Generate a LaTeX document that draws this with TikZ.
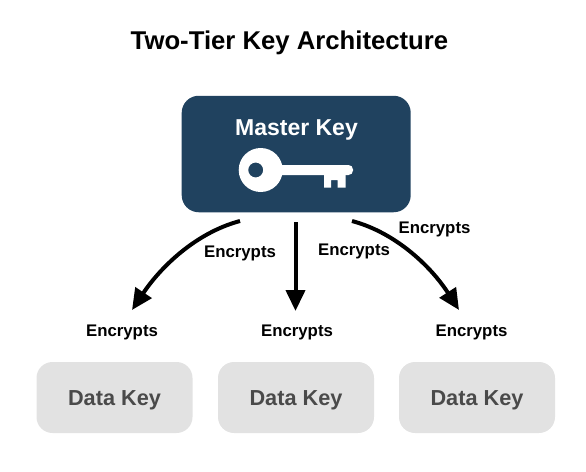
\documentclass[tikz,border=0pt]{standalone}
\usepackage{fontspec}
\setmainfont{Liberation Sans}
\usetikzlibrary{arrows.meta}
\definecolor{navy}{HTML}{20425F}
\definecolor{databox}{HTML}{E2E2E2}
\definecolor{datatext}{HTML}{4A4A4A}
\tikzset{
  x=1pt,y=-1pt,
  databoxst/.style={draw=none,fill=databox,rounded corners=16pt,minimum width=156pt,minimum height=71pt,inner sep=0pt,text=datatext,text height=15.5pt,text depth=0pt,font=\fontsize{21.7}{24}\selectfont\bfseries},
  lbl/.style={inner sep=0pt,text=black,font=\fontsize{16.8}{19}\selectfont\bfseries},
  arrowst/.style={line width=4pt,draw=black,-{Triangle[length=21pt,width=19pt]}},
}
\begin{document}
\begin{tikzpicture}
\useasboundingbox (0,0) rectangle (586,471);
\node[inner sep=0pt,font=\fontsize{25.7}{29}\selectfont\bfseries] (title) at (289.5,43) {Two-Tier Key Architecture};
\node[fill=navy,rounded corners=17pt,minimum width=229pt,minimum height=116.5pt,inner sep=0pt] (master) at (296.2,154) {};
\node[inner sep=0pt,text=white,font=\fontsize{23}{26}\selectfont\bfseries] (mlabel) at (296.5,130) {Master Key};
% key
\fill[white,even odd rule] (260.7,170) circle (22) (255.7,170) circle (7.5);
\fill[white,rounded corners=4.5pt] (275,165) rectangle (353,175);
\fill[white] (324,172) -- (345.7,172) -- (345.7,187.7) -- (337.7,187.7) -- (337.7,180) -- (331,180) -- (331,187.7) -- (324,187.7) -- cycle;
\node[databoxst] (d1) at (114.5,397.5) {Data Key};
\node[databoxst] (d2) at (296,397.5) {Data Key};
\node[databoxst] (d3) at (477,397.5) {Data Key};
\node[lbl] (e1) at (122,332.5) {Encrypts};
\node[lbl] (e2) at (297,332.5) {Encrypts};
\node[lbl] (e3) at (471.5,332.5) {Encrypts};
\node[lbl] (a1) at (240,253.5) {Encrypts};
\node[lbl] (a2) at (354,251.5) {Encrypts};
\node[lbl] (a3) at (434.5,229.5) {Encrypts};
\coordinate (s1) at (240,221);
\coordinate (s2) at (295.5,222);
\coordinate (s3) at (352,221);
\coordinate (t1) at (132,310);
\coordinate (t2) at (295.5,311);
\coordinate (t3) at (459,310);
\draw[arrowst] (s1) .. controls (195,233) and (160,268) .. (t1);
\draw[arrowst] (s2) -- (t2);
\draw[arrowst] (s3) .. controls (397,233) and (432,268) .. (t3);
\end{tikzpicture}
\end{document}
